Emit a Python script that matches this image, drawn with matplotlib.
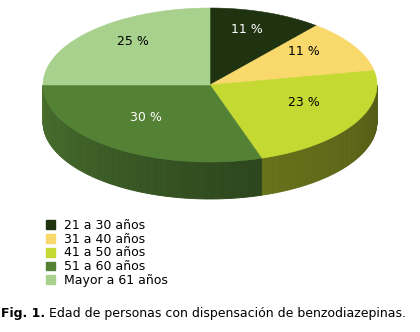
import numpy as np
import matplotlib
matplotlib.use('Agg')
import matplotlib.pyplot as plt
import matplotlib.patches as mpatches
from matplotlib.colors import to_rgb

plt.rcParams['font.family'] = 'DejaVu Sans'

labels = ['21 a 30 años', '31 a 40 años', '41 a 50 años', '51 a 60 años', 'Mayor a 61 años']
values = [11, 11, 23, 30, 25]
colors = ['#1f3310', '#f9d86c', '#c4d932', '#548235', '#a9d18e']
label_colors = ['white', 'black', 'black', 'white', 'black']
caption_bold = 'Fig. 1.'
caption_rest = ' Edad de personas con dispensación de benzodiazepinas.'

# ellipse geometry (pixel units)
CX, CY, A, B, DEPTH = 210, 85, 167, 77, 37

fig = plt.figure(figsize=(4.2, 3.32), dpi=100)
ax = fig.add_axes([0, 0, 1, 1])
ax.set_xlim(0, 420)
ax.set_ylim(332, 0)
ax.axis('off')

fr = np.array(values) / np.sum(values)
ends = 90 - np.cumsum(fr) * 360
starts = np.concatenate([[90], ends[:-1]])


def pt(t, dz=0):
    r = np.radians(t)
    return CX + A * np.cos(r), CY - B * np.sin(r) + dz


# side walls (front half only: angles -180..0)
shade_t = [-180, -70, 0]
shade_f = [0.86, 0.52, 0.42]
for s, e, c in zip(starts, ends, colors):
    lo, hi = max(e, -180), min(s, 0)
    if lo >= hi:
        continue
    ts = np.linspace(hi, lo, int((hi - lo) / 1.0) + 2)
    base = np.array(to_rgb(c))
    for t0, t1 in zip(ts[:-1], ts[1:]):
        f = np.interp((t0 + t1) / 2, shade_t, shade_f)
        col = base * f
        x0, y0 = pt(t0)
        x1, y1 = pt(t1)
        ax.fill([x0, x1, x1, x0], [y0, y1, y1 + DEPTH, y0 + DEPTH],
                color=col, lw=0.6, ec=col)

# top face
for s, e, c in zip(starts, ends, colors):
    ts = np.linspace(s, e, 200)
    xs, ys = pt(ts)
    ax.fill(np.r_[CX, xs], np.r_[CY, ys], color=c, ec=c, lw=0.4)

# percentage labels
for s, e, v, tc in zip(starts, ends, values, label_colors):
    m = np.radians((s + e) / 2)
    x = CX + A * 0.65 * np.cos(m)
    y = CY - 8 - B * 0.65 * np.sin(m)
    ax.text(x, y, f'{v} %', color=tc, fontsize=9, ha='center', va='center')

handles = [mpatches.Patch(color=c, label=l) for c, l in zip(colors, labels)]
fig.legend(handles=handles, loc='upper left', bbox_to_anchor=(46 / 420, 1 - 219 / 332),
           frameon=False, fontsize=9, handlelength=0.7, handleheight=0.7,
           handletextpad=0.7, labelspacing=0.06, borderpad=0, borderaxespad=0)

t1 = ax.text(1, 314, caption_bold, fontsize=9, fontweight='bold', va='center', ha='left')
ax.annotate(caption_rest, xy=(1, 0.5), xycoords=t1, fontsize=9, va='center', ha='left')

fig.savefig('out.png', dpi=100)
